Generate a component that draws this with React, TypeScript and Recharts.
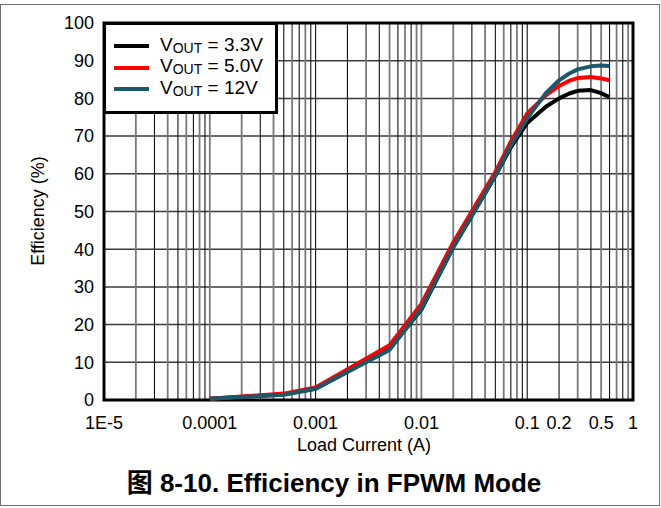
import { LineChart, Line, XAxis, YAxis, CartesianGrid, ReferenceLine, ReferenceArea } from "recharts";

const FONT = "'Liberation Sans', Arial, 'Noto Sans CJK SC', sans-serif";

// load current (A)
const LOAD_CURRENT = [0.0001, 0.0005, 0.001, 0.005, 0.01, 0.02, 0.05, 0.07, 0.1, 0.15, 0.2, 0.25, 0.3, 0.4, 0.5, 0.6];
// efficiency (%)
const EFF_3V3 = [0.3, 1.5, 3.0, 13.5, 24.0, 40.5, 59.5, 67.0, 73.5, 77.8, 80.0, 81.3, 82.0, 82.2, 81.4, 80.3];
const EFF_5V0 = [0.3, 1.7, 3.3, 14.5, 25.5, 41.8, 60.5, 68.5, 76.0, 80.8, 83.3, 84.7, 85.4, 85.7, 85.3, 84.8];
const EFF_12V = [0.3, 1.4, 3.0, 13.3, 24.3, 40.5, 59.5, 67.5, 74.7, 81.4, 84.8, 86.6, 87.7, 88.5, 88.7, 88.6];

const X_TICKS = [1e-5, 1e-4, 1e-3, 0.01, 0.1, 0.2, 0.5, 1];
const X_TICK_LABELS = ["1E-5", "0.0001", "0.001", "0.01", "0.1", "0.2", "0.5", "1"];
const Y_TICKS = [0, 10, 20, 30, 40, 50, 60, 70, 80, 90, 100];

const SERIES = [
  { key: "v33", name: "3.3V", color: "#000000" },
  { key: "v50", name: "5.0V", color: "#ff0000" },
  { key: "v12", name: "12V", color: "#1b5869" },
];

const data = LOAD_CURRENT.map((x, i) => ({
  x,
  v33: EFF_3V3[i],
  v50: EFF_5V0[i],
  v12: EFF_12V[i],
}));

// 1..9 x each decade for the log grid
const minorGrid: number[] = [];
for (let e = -5; e < 0; e++) {
  for (let m = 2; m <= 9; m++) minorGrid.push(m * Math.pow(10, e));
  if (e > -5) minorGrid.push(Math.pow(10, e));
}

const tickStyle = { fontSize: 18, fill: "#000", fontFamily: FONT };

export default function App() {
  return (
    <div
      style={{
        position: "absolute",
        left: 0,
        top: 0,
        width: 661,
        height: 508,
        background: "#fff",
        fontFamily: FONT,
      }}
    >
      <div
        style={{
          position: "absolute",
          left: 0,
          top: 4,
          width: 658,
          height: 500,
          border: "1.5px solid #707070",
        }}
      />
      <div style={{ position: "absolute", left: 0, top: 0 }}>
        <LineChart
          width={661}
          height={508}
          data={data}
          margin={{ top: 23, right: 28, left: 44, bottom: 48 }}
        >
          <CartesianGrid vertical={false} stroke="#3a3a3a" strokeWidth={1.5} />
          {minorGrid.map((v, i) => (
            <ReferenceLine
              key={v}
              x={v}
              stroke={i % 2 === 0 ? "#7a7a7a" : "#111"}
              strokeWidth={i % 2 === 0 ? 1.8 : 1.1}
              zIndex={-50}
            />
          ))}
          <XAxis
            dataKey="x"
            type="number"
            scale="log"
            domain={[1e-5, 1]}
            ticks={X_TICKS}
            interval={0}
            allowDataOverflow
            height={60}
            axisLine={false}
            tickLine={false}
            tickSize={0}
            tickMargin={16}
            tick={tickStyle}
            tickFormatter={(v: number) => X_TICK_LABELS[X_TICKS.indexOf(v)] ?? ""}
          />
          <YAxis
            type="number"
            domain={[0, 100]}
            ticks={Y_TICKS}
            interval={0}
            width={60}
            axisLine={false}
            tickLine={false}
            tickSize={0}
            tickMargin={10}
            tick={tickStyle}
          />
          {SERIES.map((s) => (
            <Line
              key={s.key}
              type="linear"
              dataKey={s.key}
              stroke={s.color}
              strokeWidth={4}
              strokeLinejoin="round"
              dot={false}
              isAnimationActive={false}
            />
          ))}
          <ReferenceArea
            x1={1e-5}
            x2={1}
            y1={0}
            y2={100}
            fill="none"
            fillOpacity={0}
            stroke="#000"
            strokeWidth={3}
            ifOverflow="visible"
          />
        </LineChart>
      </div>

      {/* legend */}
      <div
        style={{
          position: "absolute",
          left: 103,
          top: 22,
          width: 169,
          height: 86,
          border: "3px solid #000",
          background: "#fff",
        }}
      >
        {SERIES.map((s, i) => (
          <div
            key={s.key}
            style={{
              position: "absolute",
              left: 8,
              top: 10 + i * 21.5,
              height: 22,
              display: "flex",
              alignItems: "center",
              whiteSpace: "nowrap",
            }}
          >
            <div style={{ width: 35, height: 4, background: s.color, marginRight: 11 }} />
            <span style={{ fontSize: 19, lineHeight: "22px" }}>
              V<sub style={{ fontSize: 14, verticalAlign: "-2px" }}>OUT</sub> = {s.name}
            </span>
          </div>
        ))}
      </div>

      <div
        style={{
          position: "absolute",
          left: 38,
          top: 211,
          transform: "translate(-50%, -50%) rotate(-90deg)",
          fontSize: 18,
          whiteSpace: "nowrap",
        }}
      >
        Efficiency (%)
      </div>
      <div
        style={{
          position: "absolute",
          left: 364,
          top: 445,
          transform: "translate(-50%, -50%)",
          fontSize: 18,
          whiteSpace: "nowrap",
        }}
      >
        Load Current (A)
      </div>
      <div
        style={{
          position: "absolute",
          left: 334,
          top: 480,
          transform: "translate(-50%, -50%)",
          fontSize: 26,
          fontWeight: "bold",
          whiteSpace: "nowrap",
        }}
      >
        图 8-10. Efficiency in FPWM Mode
      </div>
    </div>
  );
}
